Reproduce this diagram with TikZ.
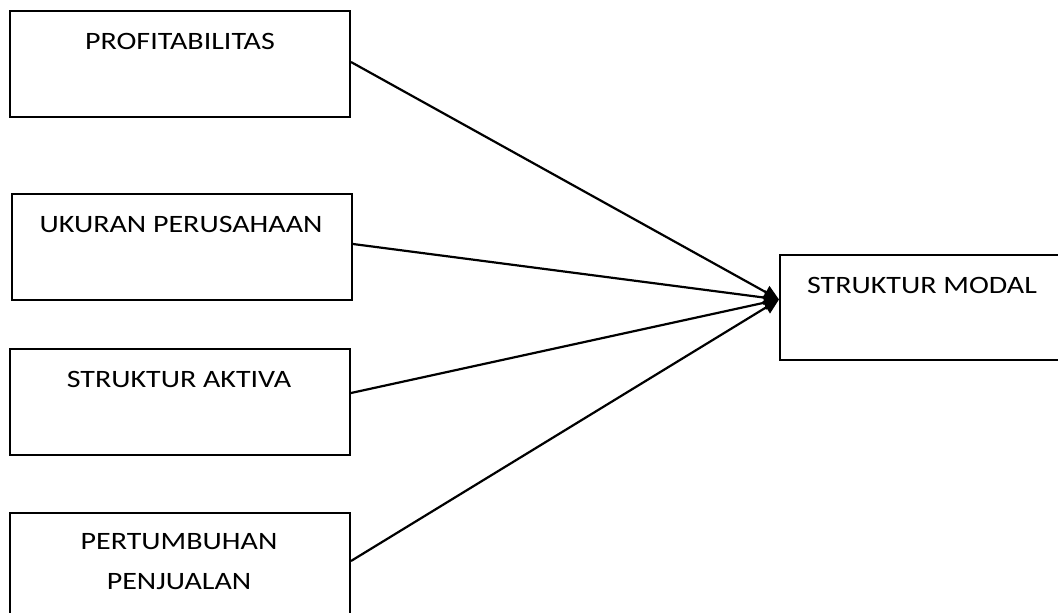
\documentclass[tikz,border=0pt]{standalone}
\usepackage{fontspec}
\usepackage{graphicx}
\setmainfont{Carlito}
\usetikzlibrary{arrows.meta}
\newcommand{\wide}[1]{\scalebox{1.2}[1]{#1}}
\begin{document}
\begin{tikzpicture}[x=1pt,y=-1pt,
  box/.style={draw, line width=2pt, rectangle, minimum width=340pt, minimum height=106pt, anchor=north west, inner sep=0pt},
  lbl/.style={font=\fontsize{25}{40}\selectfont, align=center, anchor=center},
  conn/.style={line width=2.2pt, -{Triangle[length=15pt,width=14pt]}}]
\useasboundingbox (0,0) rectangle (1058,613);
\node[box] (p) at (9,10) {};
\node[box] (u) at (11,193) {};
\node[box] (a) at (9,348) {};
\node[box] (g) at (9,512) {};
\node[box, minimum width=300pt, minimum height=105pt] (m) at (779,254) {};
\node[lbl] (pt) at (180,41) {\wide{PROFITABILITAS}};
\node[lbl] (ut) at (181,224) {\wide{UKURAN PERUSAHAAN}};
\node[lbl] (at) at (179,379) {\wide{STRUKTUR AKTIVA}};
\node[lbl] (gt) at (179,562) {\wide{PERTUMBUHAN}\\\wide{PENJUALAN}};
\node[lbl] (mt) at (922,285) {\wide{STRUKTUR MODAL}};
\coordinate (tip) at ([yshift=8pt]m.west);
\draw[conn] ([yshift=2pt]p.east) -- (tip);
\draw[conn] ([yshift=3pt]u.east) -- (tip);
\draw[conn] ([yshift=9pt]a.east) -- (tip);
\draw[conn] ([yshift=5pt]g.east) -- (tip);
\end{tikzpicture}
\end{document}
